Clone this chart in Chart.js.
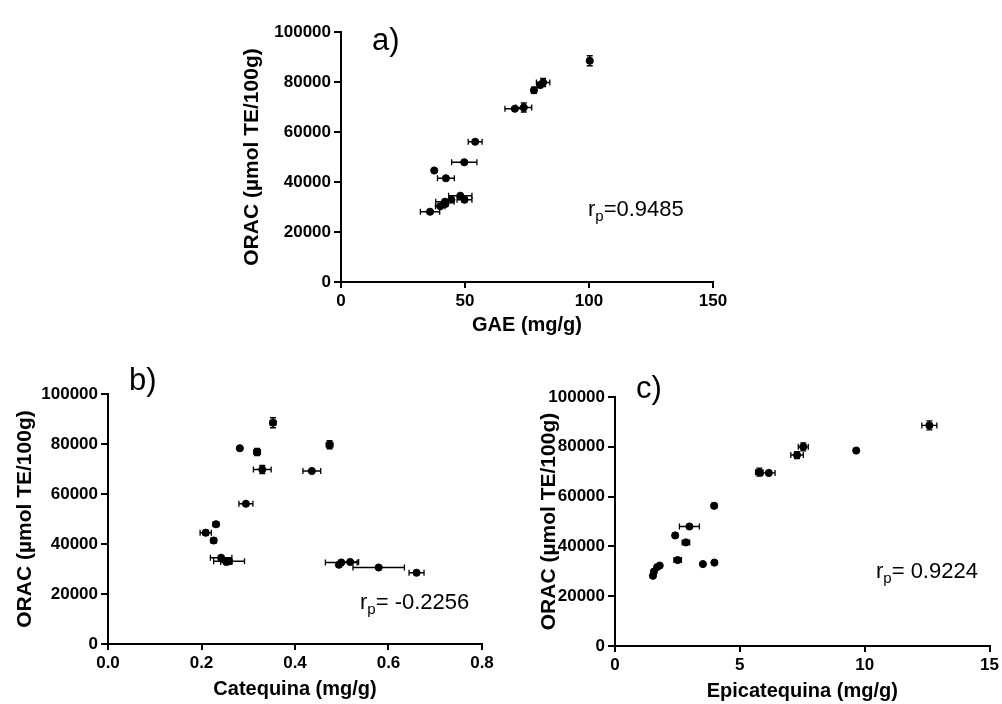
<!DOCTYPE html>
<html>
<head>
<meta charset="utf-8">
<script src="https://cdn.jsdelivr.net/npm/chart.js@4/dist/chart.umd.min.js"></script>
<style>
  body { margin: 0; background: #fff; }
  #wrap { position: relative; width: 1002px; height: 704px; }
  canvas { position: absolute; }
</style>
</head>
<body>
<div id="wrap">
  <canvas id="chartA" width="540" height="350" style="left:200px;top:0px;width:540px;height:350px"></canvas>
  <canvas id="chartB" width="510" height="349" style="left:0px;top:355px;width:510px;height:349px"></canvas>
  <canvas id="chartC" width="492" height="349" style="left:510px;top:355px;width:492px;height:349px"></canvas>
</div>
<script>
// ORAC values (umol TE/100g) vs GAE, catequina, epicatequina
var gaeX    = [100.3, 81.5, 80.3, 77.8, 73.7, 70.1, 54.1, 49.7, 37.6, 42.3, 48.1, 49.8, 44.5, 41.9, 42.1, 40.0, 35.9];
var gaeY    = [88500, 79800, 78800, 76700, 69800, 69300, 56100, 47900, 44600, 41500, 34500, 32900, 32900, 32100, 31200, 30300, 28100];
var gaeXErr = [0, 2.7, 0, 0, 3.2, 4.0, 2.8, 5.1, 0, 3.4, 4.7, 3.0, 0, 3.7, 0, 1.9, 3.9];
var gaeYErr = [2000, 1600, 1000, 1200, 1800, 600, 0, 0, 600, 0, 0, 800, 0, 0, 0, 0, 0];

var catX    = [0.353, 0.282, 0.474, 0.319, 0.330, 0.436, 0.295, 0.231, 0.209, 0.226, 0.242, 0.259, 0.253, 0.499, 0.494, 0.518, 0.579, 0.660];
var catY    = [88500, 78300, 79700, 76800, 69800, 69200, 56100, 47900, 44500, 41400, 34500, 33100, 32800, 32600, 31700, 32800, 30600, 28500];
var catXErr = [0.006, 0, 0.007, 0.007, 0.019, 0.019, 0.015, 0.006, 0.012, 0.006, 0.023, 0.033, 0.012, 0.034, 0, 0.018, 0.055, 0.016];
var catYErr = [2000, 0, 1600, 1400, 1600, 0, 0, 0, 1000, 0, 0, 0, 0, 0, 0, 0, 0, 0];

var epiX    = [12.59, 9.66, 7.54, 7.29, 5.78, 6.16, 3.97, 2.98, 2.41, 2.84, 2.51, 3.52, 3.98, 1.79, 1.69, 1.56, 1.52];
var epiY    = [88600, 78500, 80000, 76700, 69800, 69500, 56300, 48000, 44400, 41600, 34500, 32900, 33500, 32300, 31700, 29900, 28200];
var epiXErr = [0.3, 0, 0.2, 0.25, 0.15, 0.25, 0.1, 0.4, 0, 0.15, 0.15, 0, 0, 0, 0, 0, 0];
var epiYErr = [1800, 0, 1600, 1400, 1600, 0, 0, 0, 800, 0, 0, 0, 800, 0, 0, 0, 0];

var yTicks = [0, 20000, 40000, 60000, 80000, 100000];
var yTitle = 'ORAC (\u00b5mol TE/100g)';

var FONT = "'Liberation Sans', Arial, sans-serif";

// error bars drawn from the err arrays through the chart scales
var errorBars = {
    id: 'errorBars',
    afterDatasetsDraw: function(chart) {
        var ctx = chart.ctx;
        var xs = chart.scales.x, ys = chart.scales.y;
        var d = chart.config.options.errData;
        ctx.save();
        ctx.strokeStyle = '#000';
        ctx.lineWidth = 1.3;
        for (var i = 0; i < d.x.length; i++) {
            var px = xs.getPixelForValue(d.x[i]);
            var py = ys.getPixelForValue(d.y[i]);
            if (d.xe[i] > 0) {
                var x1 = xs.getPixelForValue(d.x[i] - d.xe[i]);
                var x2 = xs.getPixelForValue(d.x[i] + d.xe[i]);
                ctx.beginPath();
                ctx.moveTo(x1, py); ctx.lineTo(x2, py);
                ctx.moveTo(x1, py - 3); ctx.lineTo(x1, py + 3);
                ctx.moveTo(x2, py - 3); ctx.lineTo(x2, py + 3);
                ctx.stroke();
            }
            if (d.ye[i] > 0) {
                var y1 = ys.getPixelForValue(d.y[i] - d.ye[i]);
                var y2 = ys.getPixelForValue(d.y[i] + d.ye[i]);
                ctx.beginPath();
                ctx.moveTo(px, y1); ctx.lineTo(px, y2);
                ctx.moveTo(px - 3, y1); ctx.lineTo(px + 3, y1);
                ctx.moveTo(px - 3, y2); ctx.lineTo(px + 3, y2);
                ctx.stroke();
            }
        }
        ctx.restore();
    }
};

// panel letter and r_p text
var labels = {
    id: 'labels',
    afterDraw: function(chart) {
        var ctx = chart.ctx;
        var t = chart.config.options.panelText;
        ctx.save();
        ctx.fillStyle = '#000';
        ctx.textBaseline = 'alphabetic';
        ctx.font = '31px ' + FONT;
        ctx.fillText(t.letter, t.lx, t.ly);
        ctx.font = '22px ' + FONT;
        ctx.fillText('r', t.rx, t.ry);
        var w = ctx.measureText('r').width;
        ctx.font = '15px ' + FONT;
        ctx.fillText('p', t.rx + w, t.ry + 5);
        var w2 = ctx.measureText('p').width;
        ctx.font = '22px ' + FONT;
        ctx.fillText(t.rtext, t.rx + w + w2, t.ry);
        ctx.restore();
    }
};

function makePanel(id, xs, ys, xe, ye, opt) {
    var pts = [];
    for (var i = 0; i < xs.length; i++) pts.push({x: xs[i], y: ys[i]});
    return new Chart(document.getElementById(id), {
        type: 'scatter',
        data: {
            datasets: [{
                data: pts,
                backgroundColor: '#000',
                borderColor: '#000',
                pointRadius: 3.6,
                pointHoverRadius: 3.6
            }]
        },
        plugins: [errorBars, labels],
        options: {
            responsive: false,
            animation: false,
            errData: {x: xs, y: ys, xe: xe, ye: ye},
            panelText: opt.text,
            layout: { padding: opt.pad },
            plugins: { legend: { display: false }, tooltip: { enabled: false } },
            scales: {
                x: {
                    type: 'linear',
                    min: opt.xMin, max: opt.xMax,
                    afterFit: function(s) { s.height = opt.xH; },
                    afterBuildTicks: function(s) { s.ticks = opt.xTicks.map(function(v) { return {value: v}; }); },
                    border: { color: '#000', width: 2 },
                    grid: { drawOnChartArea: false, drawTicks: true, tickLength: 6, color: '#000', lineWidth: 2 },
                    ticks: {
                        color: '#000', padding: 3,
                        font: { family: FONT, size: 17, weight: 'bold' },
                        callback: opt.xFmt
                    },
                    title: {
                        display: true, text: opt.xTitle, color: '#000',
                        font: { family: FONT, size: 20, weight: 'bold' },
                        padding: { top: 0, bottom: opt.xTitlePad }
                    }
                },
                y: {
                    type: 'linear',
                    min: 0, max: 100000,
                    afterFit: function(s) { s.width = opt.yW; },
                    afterBuildTicks: function(s) { s.ticks = yTicks.map(function(v) { return {value: v}; }); },
                    border: { color: '#000', width: 2 },
                    grid: { drawOnChartArea: false, drawTicks: true, tickLength: 7, color: '#000', lineWidth: 2 },
                    ticks: {
                        color: '#000', padding: 3,
                        font: { family: FONT, size: 17, weight: 'bold' },
                        callback: function(v) { return String(v); }
                    },
                    title: {
                        display: true, text: yTitle, color: '#000',
                        font: { family: FONT, size: 21, weight: 'bold' },
                        padding: { top: opt.yTitlePad, bottom: 0 }
                    }
                }
            }
        }
    });
}

makePanel('chartA', gaeX, gaeY, gaeXErr, gaeYErr, {
    xMin: 0, xMax: 150, xTicks: [0, 50, 100, 150],
    xFmt: function(v) { return String(v); },
    xTitle: 'GAE (mg/g)',
    pad: { left: 0, right: 27, top: 32, bottom: 0 },
    yW: 141, xH: 68, xTitlePad: 13, yTitlePad: 40,
    text: { letter: 'a)', lx: 172, ly: 50, rx: 388, ry: 216, rtext: '=0.9485' }
});

makePanel('chartB', catX, catY, catXErr, catYErr, {
    xMin: 0, xMax: 0.8, xTicks: [0, 0.2, 0.4, 0.6, 0.8],
    xFmt: function(v) { return Number(v).toFixed(1); },
    xTitle: 'Catequina (mg/g)',
    pad: { left: 0, right: 28, top: 39, bottom: 0 },
    yW: 108, xH: 60, xTitlePad: 3, yTitlePad: 13,
    text: { letter: 'b)', lx: 129, ly: 35, rx: 360, ry: 254, rtext: '= -0.2256' }
});

makePanel('chartC', epiX, epiY, epiXErr, epiYErr, {
    xMin: 0, xMax: 15, xTicks: [0, 5, 10, 15],
    xFmt: function(v) { return String(v); },
    xTitle: 'Epicatequina (mg/g)',
    pad: { left: 0, right: 12, top: 42, bottom: 0 },
    yW: 105, xH: 58, xTitlePad: 1, yTitlePad: 27,
    text: { letter: 'c)', lx: 126, ly: 43, rx: 366, ry: 223, rtext: '= 0.9224' }
});
</script>
</body>
</html>
